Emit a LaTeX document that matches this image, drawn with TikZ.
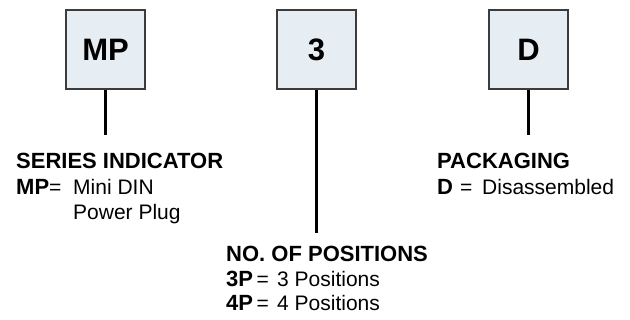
\documentclass[tikz,border=0pt]{standalone}
\usepackage{fontspec}
\setmainfont{Liberation Sans}
\definecolor{boxfill}{RGB}{230,238,244}
\definecolor{boxdraw}{RGB}{60,60,60}
\begin{document}
\begin{tikzpicture}[x=1pt,y=-1pt,
  codebox/.style={draw=boxdraw, line width=1.6pt, fill=boxfill,
    minimum width=79pt, minimum height=79pt, inner sep=0pt,
    font=\fontsize{31}{31}\selectfont\bfseries},
  lead/.style={line width=2.6pt, black},
  head/.style={anchor=base west, inner sep=0pt,
    font=\fontsize{22}{24}\selectfont\bfseries},
  keytxt/.style={anchor=base west, inner sep=0pt,
    font=\fontsize{21}{24}\selectfont},
  valtxt/.style={anchor=base west, inner sep=0pt,
    font=\fontsize{21}{24}\selectfont}]
\useasboundingbox (0,0) rectangle (630,320);
% boxes
\node[codebox] (mp) at (105.5,49.5) {MP};
\node[codebox] (pos) at (316.5,49.5) {3};
\node[codebox] (pk) at (528.5,49.5) {D};
% leader ends
\coordinate (mpend) at (105.5,135);
\coordinate (posend) at (316.5,233);
\coordinate (pkend) at (528.5,135);
\draw[lead] (mp.south) -- (mpend);
\draw[lead] (pos.south) -- (posend);
\draw[lead] (pk.south) -- (pkend);
% series indicator
\node[head] (sh) at (16,169) {SERIES INDICATOR};
\node[keytxt] (sk1) at (16,195) {{\fontsize{22}{24}\selectfont\bfseries MP}=};
\node[valtxt] (sv1) at (73,195) {Mini DIN};
\node[valtxt] (sv2) at (73,220) {Power Plug};
% positions
\node[head] (ph) at (226,262) {NO. OF POSITIONS};
\node[keytxt] (pk1) at (226,287) {{\fontsize{22}{24}\selectfont\bfseries 3P}\,=};
\node[valtxt] (pv1) at (277,287) {3 Positions};
\node[keytxt] (pk2) at (226,311) {{\fontsize{22}{24}\selectfont\bfseries 4P}\,=};
\node[valtxt] (pv2) at (277,311) {4 Positions};
% packaging
\node[head] (kh) at (437,169) {PACKAGING};
\node[keytxt] (kk1) at (437,195) {{\fontsize{22}{24}\selectfont\bfseries D}\,\,=};
\node[valtxt] (kv1) at (482,195) {Disassembled};
\end{tikzpicture}
\end{document}
